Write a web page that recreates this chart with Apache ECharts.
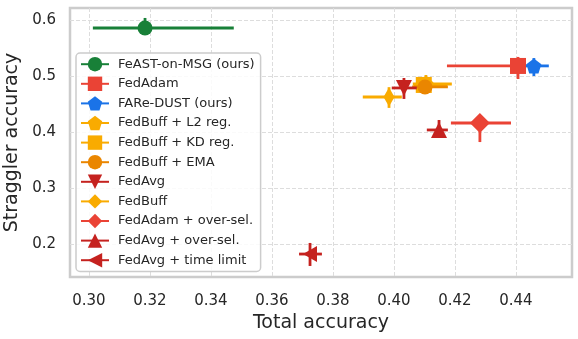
<!DOCTYPE html>
<html>
<head>
<meta charset="utf-8">
<script src="https://cdn.jsdelivr.net/npm/echarts@6/dist/echarts.min.js"></script>
<style>
  html, body { margin: 0; padding: 0; background: #fff; }
  #chart { width: 578px; height: 339px; }
</style>
</head>
<body>
<div id="chart"></div>
<script>
// methods, in legend order
var methods = ['FeAST-on-MSG (ours)', 'FedAdam', 'FARe-DUST (ours)', 'FedBuff + L2 reg.',
    'FedBuff + KD reg.', 'FedBuff + EMA', 'FedAvg', 'FedBuff', 'FedAdam + over-sel.',
    'FedAvg + over-sel.', 'FedAvg + time limit'];
// point estimates
var totalAcc = [0.3184, 0.4407, 0.4459, 0.4105, 0.4098, 0.4102, 0.4033, 0.3984, 0.4282, 0.4148, 0.3725];
var stragglerAcc = [0.5857, 0.5179, 0.518, 0.4857, 0.484, 0.4804, 0.4786, 0.4625, 0.416, 0.4036, 0.182];
// error bar ends
var totalLow = [0.3013, 0.4174, 0.4433, 0.4062, 0.4065, 0.406, 0.3993, 0.3898, 0.4187, 0.4108, 0.3689];
var totalHigh = [0.3475, 0.4435, 0.4508, 0.419, 0.4175, 0.4177, 0.4075, 0.4026, 0.4384, 0.4177, 0.3764];
var stragglerLow = [0.58, 0.4946, 0.5, 0.47, 0.474, 0.472, 0.459, 0.443, 0.382, 0.395, 0.1607];
var stragglerHigh = [0.6036, 0.534, 0.532, 0.5018, 0.495, 0.488, 0.4964, 0.48, 0.425, 0.4214, 0.2018];
// tick labels
var xTicks = [0.30, 0.32, 0.34, 0.36, 0.38, 0.40, 0.42, 0.44];
var yTicks = [0.2, 0.3, 0.4, 0.5, 0.6];

var colors = ['#188038', '#ea4335', '#1a73e8', '#f9ab00', '#f9ab00', '#ea8600',
    '#c5221f', '#f9ab00', '#ea4335', '#c5221f', '#c5221f'];
var pentagon = 'path://M0,-1 L0.951,-0.309 L0.588,0.809 L-0.588,0.809 L-0.951,-0.309 Z';
var symbols = ['circle', 'rect', pentagon, pentagon, 'rect', 'circle',
    'path://M-1,-1 L1,-1 L0,1 Z', 'diamond', 'diamond', 'triangle', 'path://M1,-1 L1,1 L-1,0 Z'];
var sizes = [15, 16, 15, 15, 16, 15, 16, [11, 19], [20, 20], 16, [14, 16]];

var font = 'DejaVu Sans';
var series = [];
for (var i = 0; i < methods.length; i++) {
    // the marker (line series so the legend gets line + marker)
    series.push({
        name: methods[i],
        type: 'line',
        data: [[totalAcc[i], stragglerAcc[i]]],
        symbol: symbols[i],
        symbolSize: sizes[i],
        showSymbol: true,
        itemStyle: {color: colors[i]},
        lineStyle: {color: colors[i], width: 2.5},
        z: 11 + 2 * i,
        silent: true
    });
}
for (var j = 0; j < methods.length; j++) {
    // error bars, drawn under the marker
    series.push({
        name: methods[j],
        type: 'custom',
        z: 10 + 2 * j,
        silent: true,
        data: [[totalAcc[j], stragglerAcc[j], totalLow[j], totalHigh[j], stragglerLow[j], stragglerHigh[j]]],
        renderItem: (function (c) {
            return function (params, api) {
                var p0 = api.coord([api.value(2), api.value(1)]);
                var p1 = api.coord([api.value(3), api.value(1)]);
                var q0 = api.coord([api.value(0), api.value(4)]);
                var q1 = api.coord([api.value(0), api.value(5)]);
                var st = {stroke: c, lineWidth: 2.8};
                return {
                    type: 'group',
                    children: [
                        {type: 'line', shape: {x1: p0[0], y1: p0[1], x2: p1[0], y2: p1[1]}, style: st},
                        {type: 'line', shape: {x1: q0[0], y1: q0[1], x2: q1[0], y2: q1[1]}, style: st}
                    ]
                };
            };
        })(colors[j])
    });
}

var myChart = echarts.init(document.getElementById('chart'));
var options = {
    animation: false,
    backgroundColor: '#fff',
    textStyle: {fontFamily: font},
    grid: {
        left: 70, right: 6, top: 8, bottom: 62,
        outerBoundsMode: 'none',
        containLabel: false,
        show: true, borderColor: '#cccccc', borderWidth: 2.5, backgroundColor: '#fff'
    },
    xAxis: {
        type: 'value',
        min: 0.2938, max: 0.4584,
        name: 'Total accuracy',
        nameLocation: 'middle',
        nameGap: 35,
        nameTextStyle: {fontSize: 19, color: '#262626', fontFamily: font},
        axisLine: {show: false},
        axisTick: {show: false, customValues: xTicks},
        axisLabel: {
            customValues: xTicks, fontSize: 15, color: '#262626', fontFamily: font, margin: 17,
            formatter: function (v) { return v.toFixed(2); }
        },
        splitLine: {show: true, lineStyle: {color: '#dddddd', type: [4, 2], width: 1}}
    },
    yAxis: {
        type: 'value',
        min: 0.141, max: 0.6214,
        name: 'Straggler accuracy',
        nameLocation: 'middle',
        nameGap: 41,
        nameTextStyle: {fontSize: 19, color: '#262626', fontFamily: font},
        axisLine: {show: false},
        axisTick: {show: false, customValues: yTicks},
        axisLabel: {
            customValues: yTicks, fontSize: 15, color: '#262626', fontFamily: font, margin: 14,
            formatter: function (v) { return v.toFixed(1); }
        },
        splitLine: {show: true, lineStyle: {color: '#dddddd', type: [4, 2], width: 1}}
    },
    legend: {
        data: methods,
        orient: 'vertical',
        left: 76, top: 53,
        padding: [4, 6, 4, 4],
        itemWidth: 28, itemHeight: 18, itemGap: 5.2,
        backgroundColor: 'rgba(255,255,255,0.85)',
        borderColor: '#cccccc', borderWidth: 1.5, borderRadius: 4,
        textStyle: {fontSize: 13, color: '#262626', fontFamily: font, padding: [0, 0, 0, 4]},
        selectedMode: false,
        z: 50
    },
    series: series
};
myChart.setOption(options, true);
</script>
</body>
</html>
